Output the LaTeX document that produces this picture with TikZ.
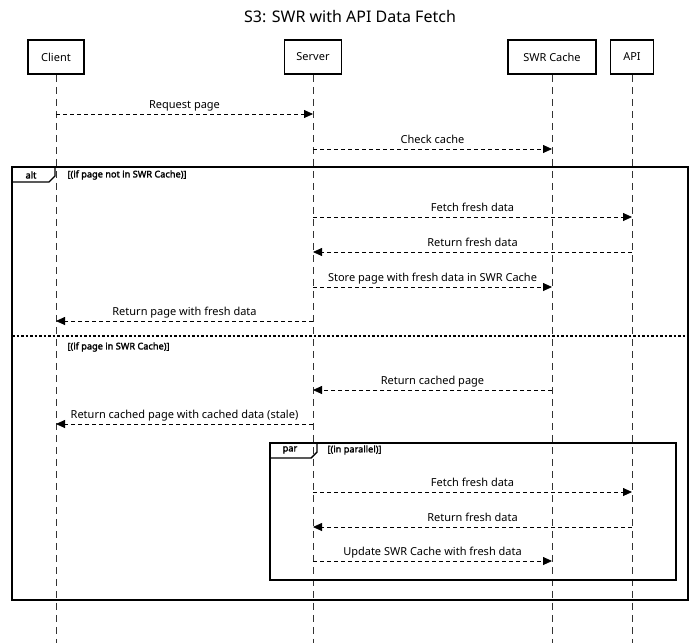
\documentclass[tikz,border=0pt]{standalone}
\usepackage{fontspec}
\setmainfont{Noto Sans}[AutoFakeBold=2]
\usepackage{tikz}
\usetikzlibrary{arrows.meta}
\tikzstyle{actor} = [draw, line width=1.5pt, minimum height=34pt, inner sep=4pt, font=\fontsize{11}{13}\selectfont]
\tikzset{lifeline/.style={draw=black!80, line width=0.9pt, dash pattern=on 7pt off 5pt},
    msg/.style={line width=0.8pt, dash pattern=on 4pt off 3pt, -{Triangle[length=9pt,width=8pt]}},
    msglabel/.style={above=-1pt, text height=8pt, text depth=2.5pt, font=\fontsize{11}{13}\selectfont},
    frame/.style={draw, line width=1.4pt},
    guard/.style={anchor=west, font=\fontsize{9.2}{10}\selectfont\bfseries}}

\begin{document}
\begin{tikzpicture}[x=1pt, y=-1pt]
    \useasboundingbox (0,0) rectangle (700,643);
    % Title
    \node[font=\fontsize{16}{19}\selectfont] (title) at (350,17) {S3: SWR with API Data Fetch};
    %
    % Participants
    \node[actor, minimum width=56pt] (client) at (56,57) {Client};
    \node[actor, minimum width=57pt] (server) at (313,57) {Server};
    \node[actor, minimum width=88pt] (cache) at (552,57) {SWR Cache};
    \node[actor, minimum width=43pt] (api) at (632,57) {API};
    %
    % Lifelines
    \foreach \p in {client,server,cache,api}{
        \coordinate (\p-end) at (\p.south |- 0,643);
        \draw[lifeline] (\p.south) -- (\p-end);
    }
    %
    % alt frame
    \draw[frame] (12,167) rectangle (688,600);
    \draw[frame] (12,182) -- (49,182) -- (55,176) -- (55,167);
    \node[guard, anchor=center] (altlabel) at (31,175) {alt};
    \node[guard] (guard1) at (64,175) {[(if page not in SWR Cache)]};
    \draw[line width=1.4pt, dash pattern=on 2.5pt off 2pt] (12,336) -- (688,336);
    \node[guard] (guard2) at (64,347) {[(if page in SWR Cache)]};
    %
    % par frame
    \draw[frame] (270,443) rectangle (676,580);
    \draw[frame] (270,458) -- (311,458) -- (317,452) -- (317,443);
    \node[guard, anchor=center] (parlabel) at (290,450) {par};
    \node[guard] (guard3) at (324,450) {[(in parallel)]};
    %
    % Messages
    \draw[msg] (client |- 0,114) -- node[msglabel] {Request page} (server |- 0,114);
    \draw[msg] (server |- 0,149) -- node[msglabel] {Check cache} (cache |- 0,149);
    \draw[msg] (server |- 0,217) -- node[msglabel] {Fetch fresh data} (api |- 0,217);
    \draw[msg] (api |- 0,252) -- node[msglabel] {Return fresh data} (server |- 0,252);
    \draw[msg] (server |- 0,287) -- node[msglabel] {Store page with fresh data in SWR Cache} (cache |- 0,287);
    \draw[msg] (server |- 0,321) -- node[msglabel] {Return page with fresh data} (client |- 0,321);
    \draw[msg] (cache |- 0,390) -- node[msglabel] {Return cached page} (server |- 0,390);
    \draw[msg] (server |- 0,424) -- node[msglabel] {Return cached page with cached data (stale)} (client |- 0,424);
    \draw[msg] (server |- 0,492) -- node[msglabel] {Fetch fresh data} (api |- 0,492);
    \draw[msg] (api |- 0,527) -- node[msglabel] {Return fresh data} (server |- 0,527);
    \draw[msg] (server |- 0,561) -- node[msglabel] {Update SWR Cache with fresh data} (cache |- 0,561);
\end{tikzpicture}
\end{document}
